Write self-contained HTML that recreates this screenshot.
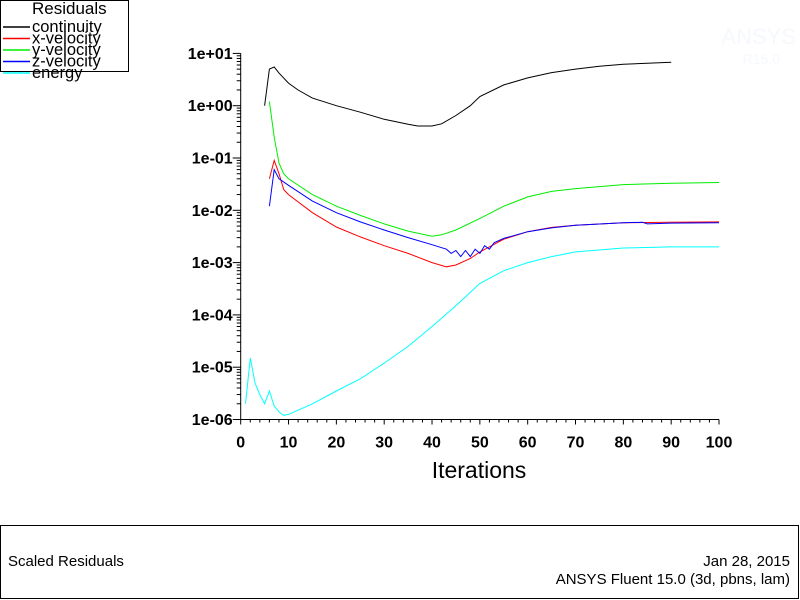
<!DOCTYPE html>
<html><head><meta charset="utf-8"><style>
html,body{margin:0;padding:0;background:#fff;}
svg{display:block;font-family:"Liberation Sans",Arial,sans-serif;}
</style></head><body>
<svg id="chart" width="800" height="600">
<rect x="0" y="0" width="800" height="600" fill="#fff"/>
<text x="796" y="44" text-anchor="end" font-size="22" fill="#f5f8fc">ANSYS</text>
<text x="780" y="64" text-anchor="end" font-size="14" fill="#f5f8fc">R15.0</text>
<g>
<rect x="0.5" y="0.5" width="128" height="71" fill="none" stroke="#000"/>
<text x="32" y="14" font-size="17">Residuals</text>
</g>
<g id="plot"></g>
<text x="479" y="478" text-anchor="middle" font-size="23">Iterations</text>
<g>
<rect x="0.5" y="525.5" width="798" height="73" fill="none" stroke="#000"/>
<text x="8" y="566" font-size="15">Scaled Residuals</text>
<text x="790" y="566" text-anchor="end" font-size="15">Jan 28, 2015</text>
<text x="790" y="584" text-anchor="end" font-size="15">ANSYS Fluent 15.0 (3d, pbns, lam)</text>
</g>
</svg>
<script>
const seriesNames = ["continuity","x-velocity","y-velocity","z-velocity","energy"];
const seriesColors = ["#000000","#ff0000","#00ee00","#0000ff","#00ffff"];
const continuityX = [5,6,7,8,10,12,15,20,25,30,35,37,40,42,45,48,50,55,60,65,70,75,80,85,90];
const continuityY = [1.0,5.0,5.5,4.2,2.7,2.0,1.4,1.0,0.75,0.55,0.44,0.41,0.41,0.45,0.65,1.0,1.5,2.5,3.4,4.3,5.0,5.7,6.2,6.5,6.8];
const xVelX = [6,7,8,9,10,15,20,25,30,35,40,43,45,48,50,55,60,65,70,80,90,100];
const xVelY = [0.04,0.09,0.05,0.025,0.02,0.009,0.0048,0.0031,0.0021,0.0015,0.001,0.00083,0.0009,0.0012,0.0016,0.0028,0.0039,0.0047,0.0052,0.0058,0.0059,0.006];
const yVelX = [6,7,8,9,10,15,20,25,30,35,40,42,45,50,55,60,65,70,80,90,100];
const yVelY = [1.2,0.25,0.08,0.05,0.04,0.02,0.012,0.008,0.0055,0.004,0.0032,0.0034,0.0042,0.007,0.012,0.018,0.023,0.026,0.031,0.033,0.034];
const zVelX = [6,7,8,10,15,20,25,30,35,40,43,44,45,46,47,48,49,50,51,52,53,55,60,65,70,80,84,85,90,100];
const zVelY = [0.012,0.06,0.04,0.03,0.015,0.009,0.006,0.0042,0.003,0.0022,0.0018,0.0015,0.0017,0.0013,0.0017,0.0013,0.0018,0.0015,0.0021,0.0018,0.0024,0.0029,0.0039,0.0046,0.0052,0.0058,0.0059,0.0055,0.0057,0.0058];
const energyX = [1,2,3,4,5,6,7,8,9,10,15,20,25,30,35,40,45,50,55,60,65,70,80,90,100];
const energyY = [2e-6,1.5e-5,5e-6,3e-6,2e-6,3.5e-6,1.8e-6,1.4e-6,1.2e-6,1.25e-6,2e-6,3.5e-6,6e-6,1.2e-5,2.5e-5,6e-5,1.5e-4,4e-4,7e-4,1e-3,1.3e-3,1.6e-3,1.9e-3,2e-3,2e-3];
const xTicks = [0,10,20,30,40,50,60,70,80,90,100];
const yTickExps = [1,0,-1,-2,-3,-4,-5,-6];
const yTickLabels = ["1e+01","1e+00","1e-01","1e-02","1e-03","1e-04","1e-05","1e-06"];

const NS="http://www.w3.org/2000/svg";
const X0=240.7,X1=719,Y0=419.5,DEC=52.3;
function sx(v){return X0+(v-0)*(X1-X0)/100;}
function sy(v){return Y0-(Math.log10(v)+6)*DEC;}
const plot=document.getElementById('plot');
function mk(tag,attrs,parent){const e=document.createElementNS(NS,tag);for(const k in attrs)e.setAttribute(k,attrs[k]);(parent||plot).appendChild(e);return e;}

const yAxis=mk('line',{x1:X0,y1:Y0,x2:X0,y2:sy(10),stroke:'#000'});


const xAxis=mk('line',{x1:X0,y1:Y0,x2:X1,y2:Y0,stroke:'#000'});



yTickExps.forEach((e,i)=>{
  const y=sy(Math.pow(10,e));
  mk('line',{x1:X0-8,y1:y,x2:X0,y2:y,stroke:'#000'});
  const t=mk('text',{x:X0-8,y:y+5.5,'text-anchor':'end','font-size':16,'font-weight':'bold'});
  t.textContent=yTickLabels[i];
  
  
  if(e>-6){for(let m=2;m<=9;m+=1){const yy=sy(m*Math.pow(10,e-1));mk('line',{x1:X0-4,y1:yy,x2:X0,y2:yy,stroke:'#000'});}}
});
xTicks.forEach((v,i)=>{
  const x=sx(v);
  mk('line',{x1:x,y1:Y0,x2:x,y2:Y0+5,stroke:'#000'});
  const t=mk('text',{x:x,y:Y0+28,'text-anchor':'middle','font-size':16,'font-weight':'bold'});
  t.textContent=String(v);
  
  
  if(i<xTicks.length-1){for(let m=2;m<10;m+=2){mk('line',{x1:sx(v+m),y1:Y0,x2:sx(v+m),y2:Y0+3,stroke:'#000'});}}
});

const allX=[continuityX,xVelX,yVelX,zVelX,energyX];
const allY=[continuityY,xVelY,yVelY,zVelY,energyY];
allX.forEach((xs,i)=>{
  const pts=xs.map((x,j)=>sx(x).toFixed(1)+','+sy(allY[i][j]).toFixed(1)).join(' ');
  const pl=mk('polyline',{points:pts,fill:'none',stroke:seriesColors[i],'stroke-width':1});
  
  
  const svg=document.getElementById('chart');
  const ly=25+i*11.5;
  const ll=mk('line',{x1:3,y1:ly+2,x2:30,y2:ly+2,stroke:seriesColors[i],'stroke-width':1.5},svg);
  
  
  const lt=mk('text',{x:32,y:ly+7,'font-size':16.5},svg);
  lt.textContent=seriesNames[i];
  
  
});
</script>
</body></html>
